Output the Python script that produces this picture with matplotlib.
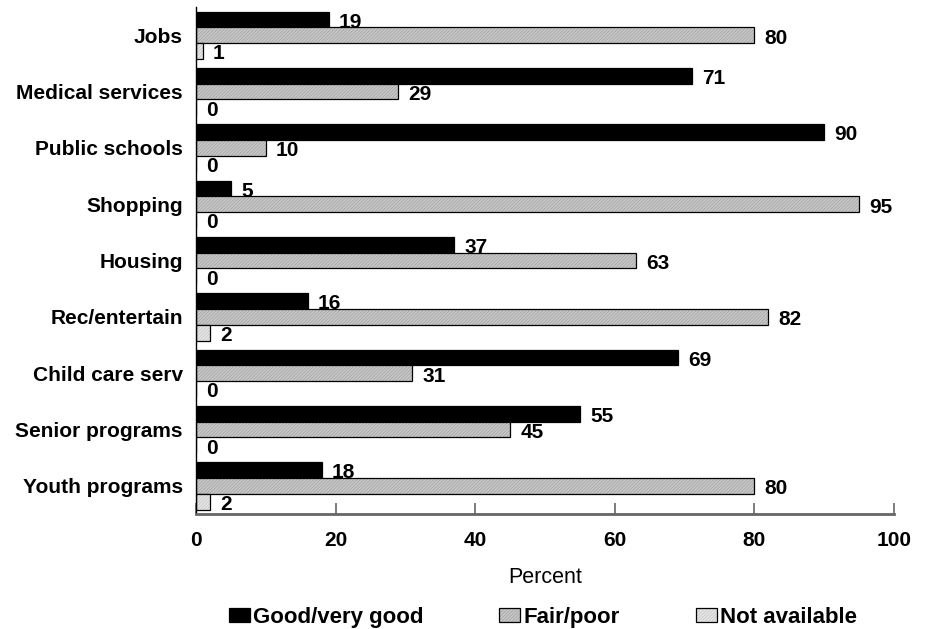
import numpy as np
import matplotlib as mpl
import matplotlib.pyplot as plt

mpl.rcParams['font.family'] = ['Liberation Sans', 'DejaVu Sans']
mpl.rcParams['hatch.linewidth'] = 0.4

categories = ["Jobs", "Medical services", "Public schools", "Shopping", "Housing",
              "Rec/entertain", "Child care serv", "Senior programs", "Youth programs"]
good = [19, 71, 90, 5, 37, 16, 69, 55, 18]
fair = [80, 29, 10, 95, 63, 82, 31, 45, 80]
not_avail = [1, 0, 0, 0, 0, 2, 0, 0, 2]
series_names = ["Good/very good", "Fair/poor", "Not available"]

fig = plt.figure(figsize=(9.25, 6.29), dpi=100)
ax = fig.add_axes([0.2119, 0.1828, 0.7546, 0.806])

n = len(categories)
y = np.arange(n)
h = 0.28
styles = [dict(color='black', edgecolor='black'),
          dict(color='#c8c8c8', edgecolor='black', hatch='//////////'),
          dict(color='#e6e6e6', edgecolor='black', hatch='//////////')]
hatchcols = [None, '#979797', '#bcbcbc']

for k, vals in enumerate([good, fair, not_avail]):
    pos = y + (k - 1) * h
    bars = ax.barh(pos, vals, height=h, linewidth=0.9, label=series_names[k], **styles[k])
    if hatchcols[k]:
        for b in bars:
            b._hatch_color = mpl.colors.to_rgba(hatchcols[k])
    for p, v in zip(pos, vals):
        ax.text(v + 1.45, p + 0.05, str(v), va='center', ha='left',
                fontsize=15, fontweight='bold')

ax.set_ylim(n - 0.5, -0.5)
ax.set_xlim(0, 100)
ax.set_yticks(y)
ax.set_yticklabels(categories, fontsize=15, fontweight='bold')
ax.tick_params(axis='y', length=0, pad=9.5)
ax.set_xticks(np.arange(0, 101, 20))
ax.set_xticklabels([str(t) for t in range(0, 101, 20)], fontsize=15, fontweight='bold')
ax.tick_params(axis='x', direction='in', length=8, width=1.2, color='#666666', pad=12.5)
ax.spines['top'].set_visible(False)
ax.spines['right'].set_visible(False)
ax.spines['bottom'].set_color('#666666')
ax.spines['bottom'].set_linewidth(2)
ax.spines['left'].set_linewidth(1.0)
ax.set_xlabel("Percent", fontsize=15.5, labelpad=12)

handles, labels = ax.get_legend_handles_labels()
fig.legend(handles, labels, loc='center', bbox_to_anchor=(0.587, 0.019), ncol=3,
           frameon=False, prop=dict(size=16, weight='bold'), handlelength=0.95,
           handleheight=0.6, handletextpad=0.15, columnspacing=3.4,
           borderpad=0, borderaxespad=0)

fig.savefig("out.png", dpi=100)
